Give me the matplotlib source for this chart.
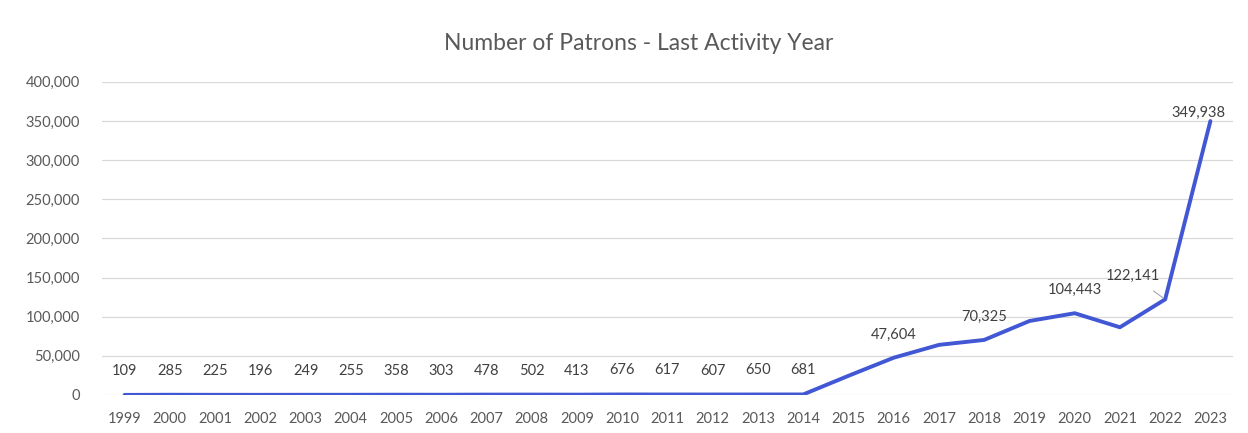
import matplotlib.pyplot as plt
from matplotlib.ticker import FuncFormatter

plt.rcParams['font.family'] = ['Lato', 'DejaVu Sans']

years = [str(y) for y in range(1999, 2024)]
patrons = [109, 285, 225, 196, 249, 255, 358, 303, 478, 502, 413, 676, 617,
           607, 650, 681, 24500, 47604, 64000, 70325, 94500, 104443, 86500,
           122141, 349938]

# which points get a data label, and where (pixel offsets from the point)
label_years = years[:16] + ["2016", "2018", "2020", "2022", "2023"]
label_offsets = {"2016": (0, 23), "2018": (0, 23), "2020": (0, 23),
                 "2022": (-32, 23), "2023": (-12, 8)}

fig = plt.figure(figsize=(12.48, 4.33), dpi=100)
ax = fig.add_axes([0.0817, 0.0878, 0.9063, 0.7232])

x = list(range(len(years)))
ax.plot(x, patrons, color="#4257d3", linewidth=2.8, solid_capstyle="round", zorder=3)

for i, yr in enumerate(years):
    if yr not in label_years:
        continue
    dx, dy = label_offsets.get(yr, (0, 24))
    arrow = None
    if yr == "2022":
        arrow = dict(arrowstyle="-", color="#a6a6a6", lw=0.8, shrinkA=6, shrinkB=2)
    ax.annotate(f"{patrons[i]:,}", (i, patrons[i]), xytext=(dx, dy),
                textcoords="offset pixels", ha="center", va="center",
                fontsize=10.5, color="#404040", arrowprops=arrow, zorder=4)

ax.set_xlim(-0.5, len(years) - 0.5)
ax.set_ylim(0, 400000)
ax.set_yticks(range(0, 400001, 50000))
ax.yaxis.set_major_formatter(FuncFormatter(lambda v, p: f"{int(v):,}"))
ax.set_xticks(x)
ax.set_xticklabels(years)
ax.grid(axis="y", color="#d9d9d9", linewidth=0.9, zorder=0)
ax.set_axisbelow(True)
for s in ax.spines.values():
    s.set_visible(False)
ax.tick_params(axis="both", length=0, labelsize=10.5, labelcolor="#595959")
ax.tick_params(axis="y", pad=16)
ax.tick_params(axis="x", pad=12)

fig.text(0.512, 0.9, "Number of Patrons - Last Activity Year", ha="center",
         va="center", fontsize=16.5, color="#595959")

fig.savefig("out.png", dpi=100)
